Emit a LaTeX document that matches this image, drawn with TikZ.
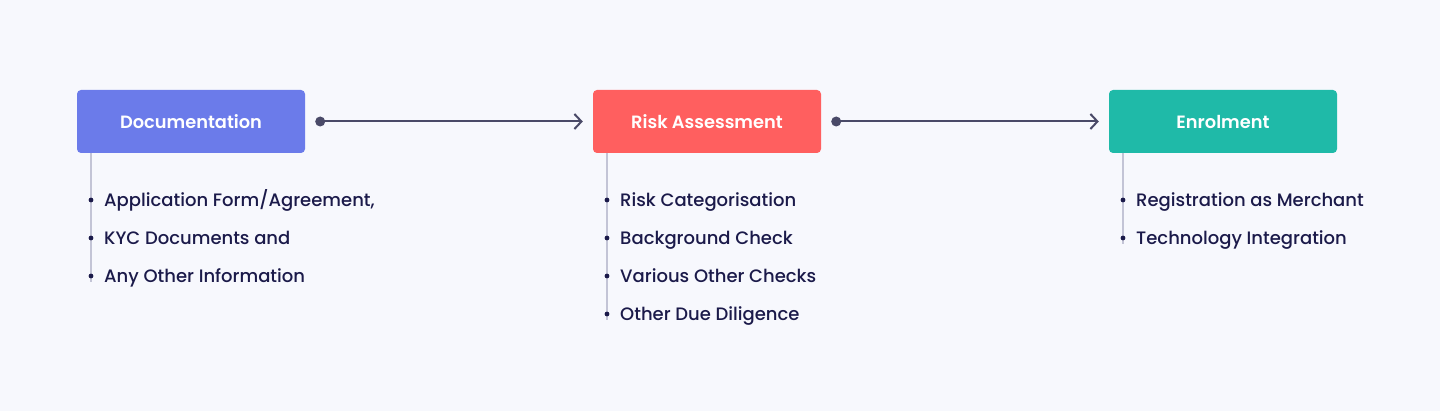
\documentclass[tikz,border=0pt]{standalone}
\usepackage{fontspec}
\setmainfont{Poppins}
\newfontfamily\popmed{Poppins Medium}
\newfontfamily\popsemi{Poppins SemiBold}
\usetikzlibrary{arrows.meta}
\definecolor{bgc}{HTML}{F7F8FD}
\definecolor{bluec}{HTML}{6B7BEA}
\definecolor{redc}{HTML}{FF5F5F}
\definecolor{tealc}{HTML}{1FBAA8}
\definecolor{txtc}{HTML}{1B1A4A}
\definecolor{arrc}{HTML}{4A4A68}
\definecolor{linec}{HTML}{C3C4D6}
\tikzset{
  stagebox/.style={rounded corners=4pt, minimum width=228pt, minimum height=63pt, inner sep=0pt,
    text=white, font=\fontsize{17.8}{20}\popsemi},
  itemtxt/.style={anchor=base west, inner sep=0pt, text=txtc, font=\fontsize{18}{20}\popmed},
  flow/.style={draw=arrc, line width=2pt, -{Straight Barb[length=7pt,width=15pt,line width=2pt]}},
  stem/.style={draw=linec, line width=2pt},
  bul/.style={fill=txtc},
}
\begin{document}
\begin{tikzpicture}[x=1pt,y=-1pt]
\fill[bgc] (0,0) rectangle (1440,411);
\useasboundingbox (0,0) rectangle (1440,411);

\node[stagebox, fill=bluec] (doc) at (191,121.5) {Documentation};
\node[stagebox, fill=redc] (risk) at (707,121.5) {Risk Assessment};
\node[stagebox, fill=tealc] (enr) at (1223,121.5) {Enrolment};

% connectors
\fill[arrc] ([xshift=15pt]doc.east) circle (5pt);
\draw[flow] ([xshift=15pt]doc.east) -- ([xshift=-10pt]risk.west);
\fill[arrc] ([xshift=15pt]risk.east) circle (5pt);
\draw[flow] ([xshift=15pt]risk.east) -- ([xshift=-10pt]enr.west);

% stems
\coordinate (d0) at (91,153);
\coordinate (d1) at (91,282);
\draw[stem] (d0) -- (d1);
\coordinate (r0) at (607,153);
\coordinate (r1) at (607,320);
\draw[stem] (r0) -- (r1);
\coordinate (e0) at (1123,153);
\coordinate (e1) at (1123,244);
\draw[stem] (e0) -- (e1);

% items
\foreach \t [count=\i] in {Application Form/Agreement{,}, KYC Documents and, Any Other Information}{
  \fill[bul] (91,{162+38*\i}) circle (2.4pt);
  \node[itemtxt] (d\i t) at (104,{168.5+38*\i}) {\t};
}
\foreach \t [count=\i] in {Risk Categorisation, Background Check, Various Other Checks, Other Due Diligence}{
  \fill[bul] (607,{162+38*\i}) circle (2.4pt);
  \node[itemtxt] (r\i t) at (620,{168.5+38*\i}) {\t};
}
\foreach \t [count=\i] in {Registration as Merchant, Technology Integration}{
  \fill[bul] (1123,{162+38*\i}) circle (2.4pt);
  \node[itemtxt] (e\i t) at (1136,{168.5+38*\i}) {\t};
}
\end{tikzpicture}
\end{document}
